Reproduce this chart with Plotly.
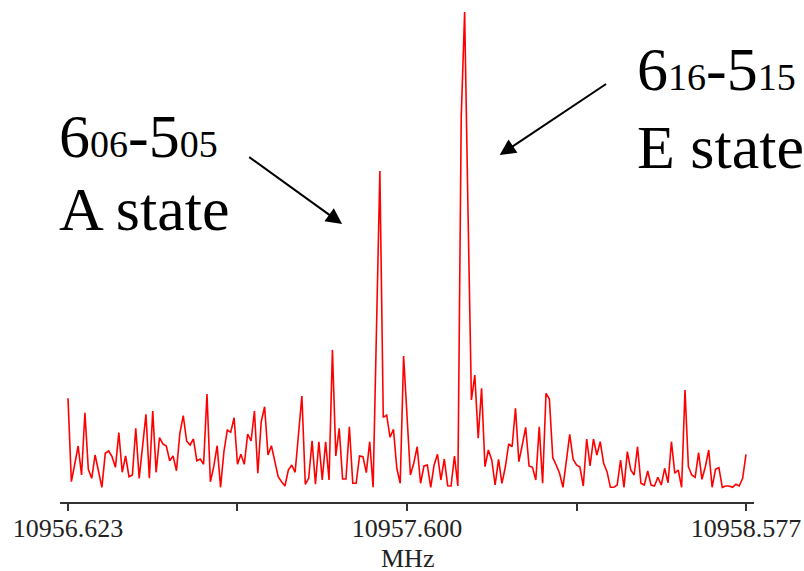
import numpy as np
import plotly.graph_objects as go

# Spectrum sampled on an even frequency grid (MHz)
freq_start = 10956.623
freq_stop = 10958.577
intensity = [
    103.7, 20.3, 38, 56, 27, 89.3, 32.7, 23.7, 47, 32,
    14.7, 48.7, 51, 45.3, 34.7, 69.3, 29.7, 46, 25.3, 27,
    73.7, 23.7, 55.7, 87.7, 23.7, 91, 29.7, 64.3, 58, 56,
    41.3, 46, 31.3, 68.7, 86.3, 61, 57, 63, 41.3, 43,
    37.7, 108, 20.3, 35.3, 56.3, 14.7, 50.3, 72, 69.7, 84.3,
    37.7, 47.7, 37.7, 68, 61, 91, 28.7, 80.3, 95.3, 47,
    56.3, 42, 25.3, 20.3, 16, 32, 37, 29.7, 68.7, 106,
    17.7, 23.7, 61.3, 17.7, 60.3, 22, 60.3, 22, 152, 46,
    73.7, 23, 23, 75.3, 18.7, 18.7, 46, 45.3, 29.3, 60.3,
    14.7, 165, 331, 84.7, 87, 64.7, 72.7, 33.7, 18.7, 146,
    89, 27, 38.7, 55.3, 18.7, 36, 37, 14.7, 37, 47.7,
    22, 43, 16.3, 16, 46, 16, 385, 490, 290, 102,
    127, 63.7, 113.7, 35.3, 52, 42, 17, 42.7, 18.7, 35,
    58, 55.3, 93.7, 40.3, 57, 74.7, 36, 34.7, 22, 75.3,
    18.7, 108.7, 103, 44.3, 37, 28.7, 14.7, 40.3, 67.7, 42.7,
    37, 35, 16, 63, 36, 63, 47, 60.3, 38.7, 30.3,
    14.7, 14.7, 17, 42, 14.7, 50.3, 32, 27, 55.3, 18.7,
    17, 31, 17, 16, 24.7, 17, 33.7, 19.3, 60.3, 28.7,
    32, 14.7, 112, 35.3, 27, 24.7, 49.3, 22.7, 35.3, 52,
    14.7, 32.7, 34.3, 14.7, 16, 16, 14.7, 17.7, 16, 23.7,
    47.7,
]
freq = np.linspace(freq_start, freq_stop, len(intensity))

tick_vals = [10956.623, 10957.1115, 10957.600, 10958.0885, 10958.577]
tick_text = ["10956.623", "", "10957.600", "", "10958.577"]
x_title = "MHz"

serif = "Liberation Serif, Times New Roman, serif"
sub = "<span style='font-size:38px'>{}</span>"

fig = go.Figure()
fig.add_trace(go.Scatter(
    x=freq, y=intensity, mode="lines",
    line=dict(color="#ff0000", width=1.6),
    hoverinfo="skip", showlegend=False,
))

fig.update_layout(
    width=804, height=571,
    margin=dict(l=60, r=50, t=10, b=69),
    paper_bgcolor="white", plot_bgcolor="white",
    showlegend=False,
    xaxis=dict(
        range=[10956.600, 10958.600], automargin=False,
        tickmode="array", tickvals=tick_vals, ticktext=tick_text,
        ticks="outside", ticklen=7, tickwidth=1.5, tickcolor="#333",
        ticklabelstandoff=-5,
        showline=True, linecolor="#333", linewidth=1.5,
        showgrid=False, zeroline=False,
        tickfont=dict(family=serif, size=26, color="#222"),
    ),
    yaxis=dict(
        range=[0, 492], visible=False, showgrid=False, zeroline=False,
        automargin=False,
    ),
)

# Axis title placed under the centre tick label
fig.add_annotation(
    x=10957.600, y=-0.114, xref="x", yref="paper", text=x_title,
    showarrow=False, xanchor="center", yanchor="middle",
    font=dict(family=serif, size=26, color="#222"),
)

label_font = dict(family=serif, size=62, color="black")
# (paper x, data y, text)
labels = [
    (-0.004, 330, "6" + sub.format("06") + "-5" + sub.format("05")),
    (-0.004, 257, "A state"),
    (0.828, 397, "6" + sub.format("16") + "-5" + sub.format("15")),
    (0.828, 319, "E state"),
]
for lx, ly, txt in labels:
    fig.add_annotation(
        x=lx, y=ly, xref="paper", yref="y", text=txt, showarrow=False,
        xanchor="left", yanchor="bottom", font=label_font,
    )

# Arrows pointing at the two transitions: (tail_x, tail_y, head_x, head_y)
arrows = [
    (10957.141, 346, 10957.413, 278),
    (10958.178, 419, 10957.867, 347),
]
for tx, ty, hx, hy in arrows:
    fig.add_annotation(
        x=hx, y=hy, xref="x", yref="y",
        ax=tx, ay=ty, axref="x", ayref="y",
        text="", showarrow=True,
        arrowhead=2, arrowsize=1.6, arrowwidth=2, arrowcolor="black",
    )

fig.write_html("out.html")
